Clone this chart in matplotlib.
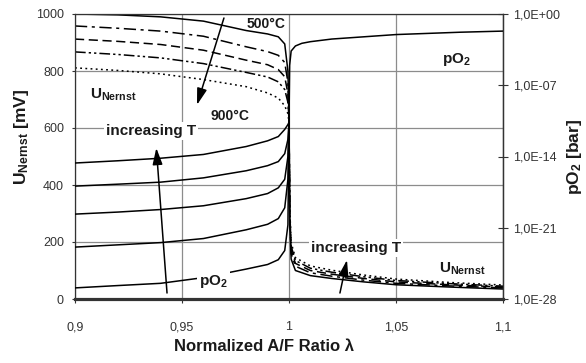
import numpy as np
import matplotlib
matplotlib.use('Agg')
import matplotlib.pyplot as plt
from matplotlib.ticker import FixedLocator, FixedFormatter, NullLocator

plt.rcParams['font.family'] = ['Liberation Sans', 'DejaVu Sans']
plt.rcParams['mathtext.fontset'] = 'custom'
plt.rcParams['mathtext.rm'] = 'Liberation Sans:bold'
plt.rcParams['mathtext.bf'] = 'Liberation Sans:bold'
plt.rcParams['mathtext.it'] = 'Liberation Sans:bold'

# normalized A/F ratio, rich side (<1) and lean side (>1)
lam_rich = [0.9, 0.92, 0.94, 0.96, 0.98, 0.99, 0.995, 0.998, 0.9995, 1.0]
lam_lean = [1.0, 1.0004, 1.001, 1.003, 1.01, 1.02, 1.035, 1.05, 1.075, 1.1]
lam_po2_lean = [1.0, 1.0003, 1.001, 1.003, 1.006, 1.01, 1.02, 1.05, 1.08, 1.1]

temps = ['500°C', '600°C', '700°C', '800°C', '900°C']

# Nernst voltage [mV] per temperature
u_rich = [
    [1000, 997, 990, 975, 942, 930, 920, 895, 800, 620],
    [958, 950, 940, 922, 885, 868, 855, 830, 760, 620],
    [912, 904, 893, 873, 838, 822, 805, 780, 720, 620],
    [867, 858, 846, 826, 795, 779, 762, 735, 690, 620],
    [811, 802, 790, 770, 745, 723, 705, 678, 650, 620],
]
u_lean = [
    [620, 260, 140, 100, 82, 72, 60, 50, 42, 35],
    [620, 280, 160, 115, 92, 80, 66, 55, 46, 39],
    [620, 290, 172, 125, 100, 87, 72, 60, 50, 42],
    [620, 300, 185, 135, 108, 94, 78, 65, 54, 45],
    [620, 310, 198, 145, 116, 101, 84, 70, 58, 49],
]

# log10 of oxygen partial pressure [bar]
logp_rich = [
    [-26.91, -26.68, -26.46, -25.90, -25.06, -24.61, -24.14, -23.24, -20.72, -10.64],
    [-22.90, -22.68, -22.46, -22.06, -21.20, -20.66, -20.10, -19.04, -16.24, -10.64],
    [-19.66, -19.46, -19.21, -18.84, -18.14, -17.64, -17.08, -16.24, -14.00, -10.64],
    [-16.91, -16.72, -16.52, -16.10, -15.40, -14.90, -14.50, -13.72, -12.32, -10.64],
    [-14.64, -14.42, -14.17, -13.80, -13.02, -12.46, -12.04, -11.34, -10.86, -10.64],
]
logp_lean = [-10.64, -5.04, -3.64, -3.14, -2.88, -2.72, -2.46, -2.02, -1.79, -1.68]

x_ticks = [0.9, 0.95, 1.0, 1.05, 1.1]
x_ticklabels = ['0,9', '0,95', '1', '1,05', '1,1']
u_ticks = [0, 200, 400, 600, 800, 1000]
p_ticks = [1e0, 1e-7, 1e-14, 1e-21, 1e-28]
p_ticklabels = ['1,0E+00', '1,0E-07', '1,0E-14', '1,0E-21', '1,0E-28']

styles = ['-', (0, (8, 3, 2, 3)), (0, (6, 3)), (0, (7, 2, 1.5, 2, 1.5, 2)), (0, (1.2, 2.2))]

fig = plt.figure(figsize=(5.86, 3.63), dpi=100)
ax = fig.add_axes([75/586, 1 - 299/363, 428/586, 285/363])
ax2 = ax.twinx()

ink = '#1a1a1a'
for k in range(len(temps)):
    ax.plot(lam_rich, u_rich[k], color='black', lw=1.1, ls=styles[k])
    ax.plot(lam_lean, u_lean[k], color='black', lw=1.1, ls=styles[k])
    ax2.plot(lam_rich, 10.0 ** np.array(logp_rich[k]), color='black', lw=1.1)
ax2.plot(lam_po2_lean, 10.0 ** np.array(logp_lean), color='black', lw=1.1)

ax.set_xlim(0.9, 1.1)
ax.set_ylim(0, 1000)
ax.set_xticks(x_ticks)
ax.set_xticklabels(x_ticklabels)
ax.set_yticks(u_ticks)
ax.grid(True, color='#8c8c8c', lw=0.9)
ax.set_axisbelow(True)
ax.tick_params(axis='x', direction='out', length=3, pad=13, labelsize=9, colors='#333333')
ax.tick_params(axis='y', direction='out', length=2, pad=6, labelsize=9, colors='#333333')
for s in ['left', 'top', 'right']:
    ax.spines[s].set_color('#333333')
    ax.spines[s].set_linewidth(0.9)
ax.spines['bottom'].set_color('#333333')
ax.spines['bottom'].set_linewidth(2.3)

ax2.set_yscale('log')
ax2.set_ylim(1e-28, 1e0)
ax2.yaxis.set_major_locator(FixedLocator(p_ticks))
ax2.yaxis.set_major_formatter(FixedFormatter(p_ticklabels))
ax2.yaxis.set_minor_locator(NullLocator())
ax2.tick_params(axis='y', direction='inout', length=7, pad=4, labelsize=9, colors='#333333')
for s in ['left', 'top', 'bottom']:
    ax2.spines[s].set_visible(False)
ax2.spines['right'].set_color('#333333')
ax2.spines['right'].set_linewidth(0.9)

ax.set_xlabel('Normalized A/F Ratio λ', fontsize=12, fontweight='bold', color=ink)
ax.xaxis.set_label_coords(0.442, -0.165)
ax.xaxis.label.set_va('center')
ax.set_ylabel(r'U$_{\mathbf{Nernst}}$ [mV]', fontsize=12.5, fontweight='bold', color=ink)
ax.yaxis.set_label_coords(-0.124, 0.57)
ax.yaxis.label.set_va('center')
ax2.set_ylabel(r'pO$_{\mathbf{2}}$ [bar]', fontsize=12.5, fontweight='bold', color=ink)
ax2.yaxis.set_label_coords(1.168, 0.50)
ax2.yaxis.label.set_va('center')

# annotations, drawn on top of both axes
tr = ax.transData
box = dict(boxstyle='square,pad=0.15', fc='white', ec='none')
ax2.text(0.9804, 951, '500°C', transform=tr, fontsize=10, fontweight='bold', color=ink)
ax2.text(0.9631, 628, '900°C', transform=tr, fontsize=10, fontweight='bold', color=ink)
ax2.text(0.907, 702, r'U$_{\mathbf{Nernst}}$', transform=tr, fontsize=11, fontweight='bold', color=ink)
ax2.text(1.0701, 91, r'U$_{\mathbf{Nernst}}$', transform=tr, fontsize=11, fontweight='bold', color=ink)
ax2.text(0.9145, 575, 'increasing T', transform=tr, fontsize=11, fontweight='bold', color=ink, bbox=box)
ax2.text(1.0103, 165, 'increasing T', transform=tr, fontsize=11, fontweight='bold', color=ink, bbox=box)
ax2.text(0.958, 49, r'pO$_{\mathbf{2}}$', transform=tr, fontsize=11, fontweight='bold', color=ink, bbox=box)
ax2.text(1.0715, 828, r'pO$_{\mathbf{2}}$', transform=tr, fontsize=11, fontweight='bold', color=ink)

arrow = dict(arrowstyle='-|>,head_length=1.0,head_width=0.3', color='black', lw=1.1, shrinkA=0, shrinkB=0)
ax2.annotate('', xy=(0.957, 681), xytext=(0.9696, 986), xycoords=tr, textcoords=tr, arrowprops=arrow)
ax2.annotate('', xy=(0.938, 530), xytext=(0.943, 21), xycoords=tr, textcoords=tr, arrowprops=arrow)
ax2.annotate('', xy=(1.0271, 137), xytext=(1.0238, 21), xycoords=tr, textcoords=tr, arrowprops=arrow)

fig.savefig('out.png', dpi=100)
